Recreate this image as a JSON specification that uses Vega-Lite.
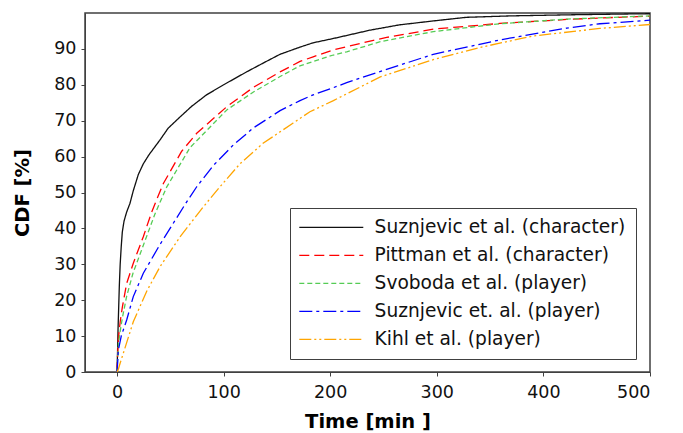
{
  "$schema": "https://vega.github.io/schema/vega-lite/v6.json",
  "width": 565,
  "height": 359,
  "autosize": "none",
  "padding": {"left": 85, "top": 13, "right": 33, "bottom": 61},
  "background": "white",
  "config": {
    "view": {"stroke": "#404040", "strokeWidth": 1.5},
    "font": "DejaVu Sans",
    "axis": {
      "labelFont": "DejaVu Sans",
      "titleFont": "DejaVu Sans",
      "labelColor": "#111111",
      "titleColor": "#000000",
      "domainColor": "#404040",
      "tickColor": "#404040",
      "grid": false,
      "tickSize": 4,
      "labelFontSize": 17.5,
      "titleFontSize": 19.5,
      "titleFontWeight": "bold"
    }
  },
  "data": {
    "values": [
      {"series": "Suznjevic et al. (character)", "t": 0, "v": 0},
      {"series": "Suznjevic et al. (character)", "t": 0.5, "v": 5},
      {"series": "Suznjevic et al. (character)", "t": 1, "v": 12},
      {"series": "Suznjevic et al. (character)", "t": 1.5, "v": 17},
      {"series": "Suznjevic et al. (character)", "t": 2.2, "v": 24},
      {"series": "Suznjevic et al. (character)", "t": 3, "v": 30},
      {"series": "Suznjevic et al. (character)", "t": 4, "v": 35},
      {"series": "Suznjevic et al. (character)", "t": 5, "v": 39},
      {"series": "Suznjevic et al. (character)", "t": 6.6, "v": 42},
      {"series": "Suznjevic et al. (character)", "t": 9, "v": 44.5},
      {"series": "Suznjevic et al. (character)", "t": 12.2, "v": 47},
      {"series": "Suznjevic et al. (character)", "t": 15.3, "v": 50.5},
      {"series": "Suznjevic et al. (character)", "t": 20, "v": 55},
      {"series": "Suznjevic et al. (character)", "t": 24.7, "v": 58},
      {"series": "Suznjevic et al. (character)", "t": 30, "v": 60.5},
      {"series": "Suznjevic et al. (character)", "t": 40, "v": 64.5},
      {"series": "Suznjevic et al. (character)", "t": 48, "v": 67.9},
      {"series": "Suznjevic et al. (character)", "t": 59, "v": 71},
      {"series": "Suznjevic et al. (character)", "t": 70, "v": 74},
      {"series": "Suznjevic et al. (character)", "t": 84, "v": 77.2},
      {"series": "Suznjevic et al. (character)", "t": 100, "v": 80},
      {"series": "Suznjevic et al. (character)", "t": 121.6, "v": 83.6},
      {"series": "Suznjevic et al. (character)", "t": 140, "v": 86.5},
      {"series": "Suznjevic et al. (character)", "t": 153, "v": 88.5},
      {"series": "Suznjevic et al. (character)", "t": 171.7, "v": 90.5},
      {"series": "Suznjevic et al. (character)", "t": 184, "v": 91.7},
      {"series": "Suznjevic et al. (character)", "t": 203, "v": 92.9},
      {"series": "Suznjevic et al. (character)", "t": 237, "v": 95.2},
      {"series": "Suznjevic et al. (character)", "t": 265, "v": 96.7},
      {"series": "Suznjevic et al. (character)", "t": 300, "v": 97.9},
      {"series": "Suznjevic et al. (character)", "t": 328, "v": 98.8},
      {"series": "Suznjevic et al. (character)", "t": 370, "v": 99.2},
      {"series": "Suznjevic et al. (character)", "t": 425, "v": 99.5},
      {"series": "Suznjevic et al. (character)", "t": 472, "v": 99.7},
      {"series": "Suznjevic et al. (character)", "t": 500, "v": 99.8},

      {"series": "Pittman et al. (character)", "t": 0, "v": 0},
      {"series": "Pittman et al. (character)", "t": 0.5, "v": 4},
      {"series": "Pittman et al. (character)", "t": 1.2, "v": 9},
      {"series": "Pittman et al. (character)", "t": 3, "v": 14},
      {"series": "Pittman et al. (character)", "t": 5, "v": 18},
      {"series": "Pittman et al. (character)", "t": 9.1, "v": 24.7},
      {"series": "Pittman et al. (character)", "t": 15.3, "v": 30.3},
      {"series": "Pittman et al. (character)", "t": 24.7, "v": 37.7},
      {"series": "Pittman et al. (character)", "t": 32.5, "v": 44.5},
      {"series": "Pittman et al. (character)", "t": 37.2, "v": 48},
      {"series": "Pittman et al. (character)", "t": 43.5, "v": 52.5},
      {"series": "Pittman et al. (character)", "t": 60.7, "v": 61.5},
      {"series": "Pittman et al. (character)", "t": 74.8, "v": 66.5},
      {"series": "Pittman et al. (character)", "t": 103, "v": 73.9},
      {"series": "Pittman et al. (character)", "t": 128, "v": 79.3},
      {"series": "Pittman et al. (character)", "t": 153, "v": 83.6},
      {"series": "Pittman et al. (character)", "t": 171.7, "v": 86.5},
      {"series": "Pittman et al. (character)", "t": 184, "v": 87.8},
      {"series": "Pittman et al. (character)", "t": 203, "v": 89.7},
      {"series": "Pittman et al. (character)", "t": 215.5, "v": 90.6},
      {"series": "Pittman et al. (character)", "t": 240.5, "v": 92.4},
      {"series": "Pittman et al. (character)", "t": 253, "v": 93.2},
      {"series": "Pittman et al. (character)", "t": 296.7, "v": 95.5},
      {"series": "Pittman et al. (character)", "t": 359, "v": 97.1},
      {"series": "Pittman et al. (character)", "t": 422, "v": 98.2},
      {"series": "Pittman et al. (character)", "t": 469, "v": 98.8},
      {"series": "Pittman et al. (character)", "t": 500, "v": 99.1},

      {"series": "Svoboda et al. (player)", "t": 0, "v": 0},
      {"series": "Svoboda et al. (player)", "t": 0.5, "v": 3},
      {"series": "Svoboda et al. (player)", "t": 1.5, "v": 8},
      {"series": "Svoboda et al. (player)", "t": 2.8, "v": 11},
      {"series": "Svoboda et al. (player)", "t": 5, "v": 15},
      {"series": "Svoboda et al. (player)", "t": 9, "v": 21},
      {"series": "Svoboda et al. (player)", "t": 15, "v": 27.5},
      {"series": "Svoboda et al. (player)", "t": 25, "v": 35.5},
      {"series": "Svoboda et al. (player)", "t": 35.6, "v": 44},
      {"series": "Svoboda et al. (player)", "t": 46.6, "v": 51.5},
      {"series": "Svoboda et al. (player)", "t": 68.5, "v": 62.5},
      {"series": "Svoboda et al. (player)", "t": 103, "v": 73},
      {"series": "Svoboda et al. (player)", "t": 128, "v": 78},
      {"series": "Svoboda et al. (player)", "t": 153, "v": 82.3},
      {"series": "Svoboda et al. (player)", "t": 171.7, "v": 85.3},
      {"series": "Svoboda et al. (player)", "t": 184, "v": 86.5},
      {"series": "Svoboda et al. (player)", "t": 203, "v": 88.3},
      {"series": "Svoboda et al. (player)", "t": 215.5, "v": 89.2},
      {"series": "Svoboda et al. (player)", "t": 247, "v": 92},
      {"series": "Svoboda et al. (player)", "t": 296.7, "v": 94.8},
      {"series": "Svoboda et al. (player)", "t": 359, "v": 97},
      {"series": "Svoboda et al. (player)", "t": 422, "v": 98.3},
      {"series": "Svoboda et al. (player)", "t": 500, "v": 99.2},

      {"series": "Suznjevic et. al. (player)", "t": 0, "v": 0},
      {"series": "Suznjevic et. al. (player)", "t": 0.5, "v": 2},
      {"series": "Suznjevic et. al. (player)", "t": 1.2, "v": 6},
      {"series": "Suznjevic et. al. (player)", "t": 4, "v": 10},
      {"series": "Suznjevic et. al. (player)", "t": 9.1, "v": 14.5},
      {"series": "Suznjevic et. al. (player)", "t": 15.3, "v": 21},
      {"series": "Suznjevic et. al. (player)", "t": 24.7, "v": 27.5},
      {"series": "Suznjevic et. al. (player)", "t": 40.3, "v": 35.5},
      {"series": "Suznjevic et. al. (player)", "t": 65.4, "v": 47.4},
      {"series": "Suznjevic et. al. (player)", "t": 74.8, "v": 51.6},
      {"series": "Suznjevic et. al. (player)", "t": 90.3, "v": 57.5},
      {"series": "Suznjevic et. al. (player)", "t": 109, "v": 63.2},
      {"series": "Suznjevic et. al. (player)", "t": 128, "v": 68},
      {"series": "Suznjevic et. al. (player)", "t": 153, "v": 72.8},
      {"series": "Suznjevic et. al. (player)", "t": 171.7, "v": 75.6},
      {"series": "Suznjevic et. al. (player)", "t": 184, "v": 77.2},
      {"series": "Suznjevic et. al. (player)", "t": 203, "v": 79.2},
      {"series": "Suznjevic et. al. (player)", "t": 215.5, "v": 80.6},
      {"series": "Suznjevic et. al. (player)", "t": 243.6, "v": 83.4},
      {"series": "Suznjevic et. al. (player)", "t": 296.7, "v": 88.5},
      {"series": "Suznjevic et. al. (player)", "t": 359, "v": 92.5},
      {"series": "Suznjevic et. al. (player)", "t": 422, "v": 95.8},
      {"series": "Suznjevic et. al. (player)", "t": 453, "v": 97},
      {"series": "Suznjevic et. al. (player)", "t": 500, "v": 98},

      {"series": "Kihl et al. (player)", "t": 0, "v": 0},
      {"series": "Kihl et al. (player)", "t": 1, "v": 0.5},
      {"series": "Kihl et al. (player)", "t": 3, "v": 2.5},
      {"series": "Kihl et al. (player)", "t": 5.9, "v": 5.2},
      {"series": "Kihl et al. (player)", "t": 15.3, "v": 14},
      {"series": "Kihl et al. (player)", "t": 27.9, "v": 22.5},
      {"series": "Kihl et al. (player)", "t": 40.3, "v": 29.3},
      {"series": "Kihl et al. (player)", "t": 60, "v": 38},
      {"series": "Kihl et al. (player)", "t": 81, "v": 46},
      {"series": "Kihl et al. (player)", "t": 96.6, "v": 51.6},
      {"series": "Kihl et al. (player)", "t": 115.4, "v": 58},
      {"series": "Kihl et al. (player)", "t": 137, "v": 63.7},
      {"series": "Kihl et al. (player)", "t": 165, "v": 69.3},
      {"series": "Kihl et al. (player)", "t": 181, "v": 72.5},
      {"series": "Kihl et al. (player)", "t": 203, "v": 75.6},
      {"series": "Kihl et al. (player)", "t": 247, "v": 82.2},
      {"series": "Kihl et al. (player)", "t": 296.7, "v": 87},
      {"series": "Kihl et al. (player)", "t": 343.6, "v": 90.6},
      {"series": "Kihl et al. (player)", "t": 390.5, "v": 93.6},
      {"series": "Kihl et al. (player)", "t": 453, "v": 95.7},
      {"series": "Kihl et al. (player)", "t": 500, "v": 96.8}
    ]
  },
  "mark": {"type": "line", "strokeWidth": 1.3, "clip": true},
  "encoding": {
    "x": {
      "field": "t",
      "type": "quantitative",
      "scale": {"domain": [-30, 500], "nice": false, "zero": false},
      "axis": {"values": [0, 100, 200, 300, 400, 500], "title": "Time [min ]", "labelPadding": 7, "titlePadding": 12}
    },
    "y": {
      "field": "v",
      "type": "quantitative",
      "scale": {"domain": [0, 100], "nice": false},
      "axis": {"values": [0, 10, 20, 30, 40, 50, 60, 70, 80, 90], "title": "CDF [%]", "labelPadding": 5, "titlePadding": 21}
    },
    "color": {
      "field": "series",
      "type": "nominal",
      "sort": null,
      "scale": {
        "domain": ["Suznjevic et al. (character)", "Pittman et al. (character)", "Svoboda et al. (player)", "Suznjevic et. al. (player)", "Kihl et al. (player)"],
        "range": ["#111111", "#ff0000", "#55cc55", "#0000ff", "#ffa500"]
      },
      "legend": {
        "title": null,
        "orient": "none",
        "legendX": 205,
        "legendY": 195,
        "strokeColor": "#404040",
        "fillColor": "white",
        "padding": 10,
        "symbolType": "M-4,0H4",
        "symbolSize": 256,
        "symbolOffset": 22,
        "symbolStrokeWidth": 1.3,
        "labelFont": "DejaVu Sans",
        "labelFontSize": 18.6,
        "labelColor": "#111111",
        "labelOffset": 34,
        "labelLimit": 400,
        "rowPadding": 9
      }
    },
    "strokeDash": {
      "field": "series",
      "type": "nominal",
      "sort": null,
      "scale": {
        "domain": ["Suznjevic et al. (character)", "Pittman et al. (character)", "Svoboda et al. (player)", "Suznjevic et. al. (player)", "Kihl et al. (player)"],
        "range": [[1, 0], [10, 5], [5, 3], [13, 4, 3, 4], [12, 3, 2, 3, 2, 3]]
      },
      "legend": null
    }
  }
}
